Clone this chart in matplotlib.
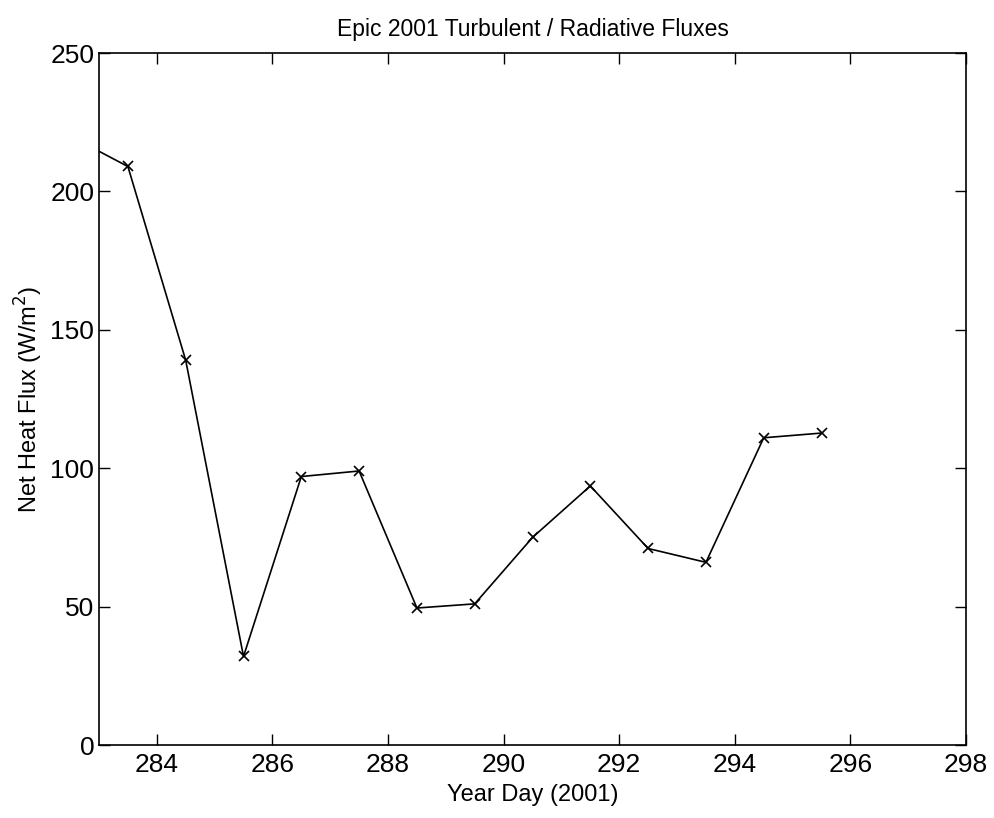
import matplotlib.pyplot as plt

days = [282.5, 283.5, 284.5, 285.5, 286.5, 287.5, 288.5, 289.5, 290.5, 291.5, 292.5, 293.5, 294.5, 295.5]
flux = [220, 209, 139, 32, 97, 99, 49.5, 51, 75, 93.6, 71, 66, 111, 112.7]
xticks = [284, 286, 288, 290, 292, 294, 296, 298]
yticks = [0, 50, 100, 150, 200, 250]

plt.rcParams['font.family'] = ['Liberation Sans', 'DejaVu Sans']

fig = plt.figure(figsize=(9.95, 8.18), dpi=100)
ax = fig.add_axes([0.0995, 0.0892, 0.8714, 0.846])

ax.plot(days, flux, color='black', linewidth=1.2, marker='x', markersize=7, markeredgewidth=1.2)

ax.set_xlim(283, 298)
ax.set_ylim(0, 250)
ax.set_xticks(xticks)
ax.set_yticks(yticks)
ax.tick_params(direction='in', top=True, right=True, length=8, width=1, labelsize=19)
ax.tick_params(axis='x', pad=6)
for s in ax.spines.values():
    s.set_linewidth(1.2)

ax.set_xlabel('Year Day (2001)', fontsize=17, labelpad=5)
ax.set_ylabel('Net Heat Flux (W/m$^2$)', fontsize=17, labelpad=4)
ax.set_title('Epic 2001 Turbulent / Radiative Fluxes', fontsize=16.5, pad=12)

fig.savefig('out.png', dpi=100)
